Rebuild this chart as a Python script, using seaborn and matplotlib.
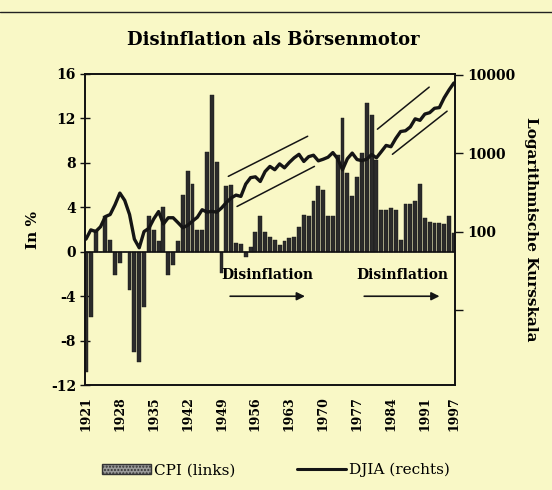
import pandas as pd
import seaborn as sns
import matplotlib.pyplot as plt
from matplotlib.patches import Patch
from matplotlib.lines import Line2D

years = list(range(1921, 1998))
cpi = [-10.8, -5.9, 2.0, 0.0, 3.2, 1.1, -2.1, -1.0, 0.0, -3.4,
       -9.0, -9.9, -5.0, 3.2, 2.0, 1.0, 4.0, -2.1, -1.2, 1.0,
       5.1, 7.3, 6.1, 2.0, 2.0, 9.0, 14.1, 8.1, -1.9, 5.9,
       6.0, 0.8, 0.7, -0.5, 0.4, 1.8, 3.2, 1.8, 1.3, 1.1,
       0.6, 1.0, 1.2, 1.3, 2.2, 3.3, 3.2, 4.6, 5.9, 5.6,
       3.2, 3.2, 8.7, 12.0, 7.1, 5.0, 6.7, 8.9, 13.4, 12.3,
       8.3, 3.8, 3.8, 3.9, 3.8, 1.1, 4.3, 4.3, 4.6, 6.1,
       3.0, 2.7, 2.6, 2.6, 2.5, 3.2, 1.7]
djia = [80, 105, 100, 115, 155, 165, 220, 310, 250, 165,
        80, 62, 100, 110, 145, 180, 125, 150, 150, 130,
        112, 120, 136, 152, 190, 177, 181, 177, 200, 235,
        269, 292, 281, 404, 488, 500, 436, 584, 679, 616,
        731, 652, 763, 874, 969, 786, 905, 944, 800, 839,
        890, 1020, 851, 616, 852, 1005, 831, 805, 839, 964,
        875, 1047, 1259, 1212, 1547, 1896, 1939, 2169, 2753, 2634,
        3169, 3301, 3754, 3834, 5117, 6448, 7908]
tick_years = [1921, 1928, 1935, 1942, 1949, 1956, 1963, 1970, 1977, 1984, 1991, 1997]

# trend channels (year, DJIA) start/end
channel_upper_1 = [(1950.4, 507), (1966.8, 1650)]
channel_lower_1 = [(1952.2, 209), (1968.2, 680)]
channel_upper_2 = [(1981.2, 2030), (1991.9, 7000)]
channel_lower_2 = [(1984.3, 970), (1995.6, 3450)]
# disinflation arrows (from year, to year)
disinflation = [(1950.2, 1966.8), (1977.9, 1994.6)]

sns.set_theme(style="white")
plt.rcParams['font.family'] = ['DejaVu Serif']
plt.rcParams['text.color'] = 'black'
plt.rcParams['axes.labelcolor'] = 'black'
plt.rcParams['xtick.color'] = 'black'
plt.rcParams['ytick.color'] = 'black'

bg = '#f9f8c6'
df = pd.DataFrame({'Jahr': years, 'CPI': cpi, 'DJIA': djia})

fig = plt.figure(figsize=(5.52, 4.9), dpi=100, facecolor=bg)
ax = fig.add_axes([0.154, 0.214, 0.670, 0.635])
ax.set_facecolor(bg)

sns.barplot(data=df, x='Jahr', y='CPI', native_scale=True, color='#2b2b2b',
            saturation=1, width=0.8, errorbar=None, edgecolor='#151515',
            linewidth=0.3, ax=ax)
ax.axhline(0, color='#111111', lw=1.2)
ax.set_xlim(1920.8, 1997.2)
ax.set_ylim(-12, 16)
ax.set_yticks(range(-12, 17, 4))
ax.set_yticklabels([str(v) for v in range(-12, 17, 4)], fontweight='bold', fontsize=10)
ax.set_xticks(tick_years)
ax.set_xticklabels([str(y) for y in tick_years], rotation=90, fontweight='bold', fontsize=9)
ax.tick_params(axis='x', length=0, pad=8)
ax.tick_params(axis='y', direction='inout', length=7, width=1, color='#111111', pad=3)
ax.set_xlabel('')
ax.set_ylabel('In %', fontweight='bold', fontsize=11, labelpad=8)
for s in ax.spines.values():
    s.set_color('#111111')
    s.set_linewidth(1.2)

ax2 = ax.twinx()
sns.lineplot(data=df, x='Jahr', y='DJIA', color='#151515', lw=2.4, ax=ax2)
for ch in [channel_upper_1, channel_lower_1, channel_upper_2, channel_lower_2]:
    ax2.plot([p[0] for p in ch], [p[1] for p in ch], color='#151515', lw=1.1)
ax2.set_yscale('log')
ax2.set_ylim(1.09, 10300)
ax2.set_yticks([10, 100, 1000, 10000])
ax2.set_yticklabels(['', '100', '1000', '10000'], fontweight='bold', fontsize=10)
ax2.minorticks_off()
ax2.tick_params(axis='y', direction='out', length=6, width=1, color='#111111', pad=3)
ax2.set_ylabel('Logarithmische Kursskala', rotation=270, fontweight='bold',
               fontsize=11, labelpad=16)
for s in ax2.spines.values():
    s.set_color('#111111')
    s.set_linewidth(1.2)

for x0, x1 in disinflation:
    ax.text((x0 + x1) / 2, -2.1, 'Disinflation', ha='center', va='center',
            fontsize=10, fontweight='bold')
    ax.annotate('', xy=(x1, -4.0), xytext=(x0, -4.0),
                arrowprops=dict(arrowstyle='-|>', color='#151515', lw=1.2,
                                mutation_scale=12))

fig.text(0.495, 1 - 40 / 490, 'Disinflation als Börsenmotor', ha='center',
         va='center', fontsize=13, fontweight='bold')
fig.add_artist(Line2D([0, 1], [1 - 12 / 490] * 2, transform=fig.transFigure,
                      color='#222222', lw=1))

handles = [Patch(facecolor='#9a9a9a', edgecolor='#333333', hatch='.....', label='CPI (links)'),
           Line2D([], [], color='#151515', lw=2.2, label='DJIA (rechts)')]
fig.legend(handles=handles, loc='center', bbox_to_anchor=(0.5, 1 - 470 / 490), ncol=2,
           frameon=False, fontsize=11, handlelength=3.2, columnspacing=4, handletextpad=0.2)

fig.savefig('out.png', dpi=100, facecolor=bg)
